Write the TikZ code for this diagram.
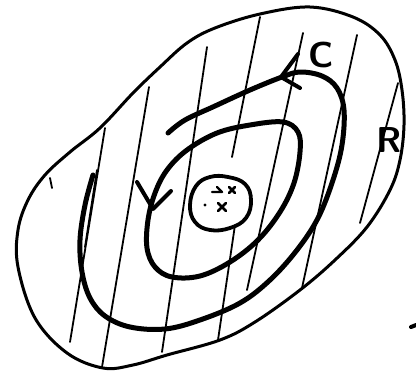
\documentclass[tikz,border=0pt]{standalone}
\usepackage{tikz}
\usetikzlibrary{arrows.meta}

\begin{document}
\begin{tikzpicture}[x=1pt, y=-1pt, line cap=round, line join=round,
	every node/.style={font=\sffamily\bfseries\fontsize{36}{36}\selectfont, inner sep=0pt},
	region/.style={line width=3pt},
	hatch/.style={line width=1.8pt},
	loop/.style={line width=5pt},
	barb/.style={line width=4pt}]
	\useasboundingbox (0,0) rectangle (416,381);
	\draw[region] plot[smooth cycle, tension=0.6] coordinates {(260,14) (310,7) (353,17) (380,35) (395,60) (402,90) (404,125) (400,160) (390,190) (367,227) (335,260) (300,290) (255,322) (220,340) (167,355) (133,365) (103,368) (67,353) (35,318) (18,267) (18,230) (28,200) (45,175) (70,152) (100,128) (133,93) (160,67) (187,43) (215,28)};
	\draw[hatch] (50,178) -- (52,188);
	\draw[hatch] (105,128) -- (70,342);
	\draw[hatch] (97,170) -- (85,247);
	\draw[hatch] (149,87) -- (102,367);
	\draw[hatch] (207,47) -- (162,352);
	\draw[hatch] (260,17) -- (232,157);
	\draw[hatch] (303,33) -- (247,290);
	\draw[hatch] (235,225) -- (218,340);
	\draw[hatch] (357,35) -- (302,288);
	\draw[hatch] (398,83) -- (360,223);
	\draw[loop] plot[smooth, tension=0.6] coordinates {(93,175) (85,205) (80,240) (82,272) (90,298) (105,316) (130,327) (165,329) (200,320) (240,303) (270,280) (297,250) (318,218) (333,180) (342,145) (344,110) (337,88) (322,76) (300,72) (282,77) (250,90) (215,106) (185,120) (168,133)};
	\draw[barb] (298,54) -- (281,77) -- (300,88);
	\draw[loop] plot[smooth cycle, tension=0.6] coordinates {(283,122) (298,132) (300,152) (294,183) (280,212) (258,240) (230,262) (200,276) (172,277) (155,267) (147,248) (148,220) (155,193) (167,170) (187,150) (217,133) (250,125)};
	\draw[barb] (137,182) -- (153,209) -- (171,191);
	\draw[line width=3.8pt] plot[smooth cycle, tension=0.7] coordinates {(190,205) (196,186) (210,177) (228,177) (245,184) (251,200) (246,218) (230,228) (210,230) (195,222)};
	\draw[line width=2.4pt] (212,192) -- (222,192) -- (217,187);
	\draw[line width=2.8pt] (229,187) -- (235,193) (229,193) -- (235,187);
	\fill (205,205) circle (1.6);
	\draw[line width=2.8pt] (218,203) -- (226,211) (218,211) -- (226,203);
	\draw[line width=4pt] (411,327) -- (416,325);
	\node (labelC) at (321,55) {C};
	\node (labelR) at (389,140) {R};
\end{tikzpicture}
\end{document}
